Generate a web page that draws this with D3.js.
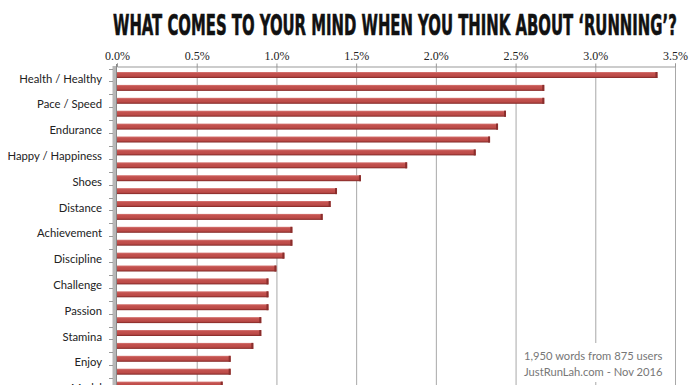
<!DOCTYPE html>
<html>
<head>
<meta charset="utf-8">
<script src="https://cdn.jsdelivr.net/npm/d3@7"></script>
<style>
  body { margin: 0; background: #fff; }
  svg { display: block; }
</style>
</head>
<body>
<svg id="chart"></svg>
<script>
// share of all words (%), top to bottom
var values = [3.39, 2.68, 2.68, 2.44, 2.39, 2.34, 2.25, 1.82, 1.53, 1.38, 1.34, 1.29,
              1.10, 1.10, 1.05, 1.00, 0.95, 0.95, 0.95, 0.905, 0.905, 0.855, 0.713, 0.713, 0.663];
// only every other category is labelled in the picture
var labels = ["Health / Healthy", null, "Pace / Speed", null, "Endurance", null,
              "Happy / Happiness", null, "Shoes", null, "Distance", null,
              "Achievement", null, "Discipline", null, "Challenge", null,
              "Passion", null, "Stamina", null, "Enjoy", null, "Medal"];
var tickValues = [0, 0.5, 1.0, 1.5, 2.0, 2.5, 3.0, 3.5];
var title = "WHAT COMES TO YOUR MIND WHEN YOU THINK ABOUT \u2018RUNNING\u2019?";
var notes = ["1,950 words from 875 users", "JustRunLah.com - Nov 2016"];

var width = 696, height = 385;
var svg = d3.select("#chart").attr("width", width).attr("height", height);

var defs = svg.append("defs");
var grad = defs.append("linearGradient").attr("id", "barGrad")
  .attr("x1", 0).attr("y1", 0).attr("x2", 0).attr("y2", 1);
grad.append("stop").attr("offset", "0%").attr("stop-color", "#d77b78");
grad.append("stop").attr("offset", "25%").attr("stop-color", "#c4524f");
grad.append("stop").attr("offset", "70%").attr("stop-color", "#bb4a47");
grad.append("stop").attr("offset", "100%").attr("stop-color", "#7e2624");

var x = d3.scaleLinear().domain([0, 3.5]).range([117, 675]);
var step = 12.9;
var y = d3.scaleBand().domain(d3.range(values.length))
  .range([68.55, 68.55 + values.length * step]);

// title: squeeze horizontally so it spans 113..677
var titleText = svg.append("text")
  .style("font-family", "'Liberation Sans Narrow', 'DejaVu Sans Condensed', sans-serif")
  .style("font-stretch", "condensed")
  .style("font-weight", "bold").style("font-size", "29px")
  .style("fill", "#111").style("stroke", "#111").style("stroke-width", 0.6)
  .text(title);
var tw = titleText.node().getComputedTextLength();
titleText.attr("transform", "translate(113,35) scale(" + (564 / tw) + ",1)");

// gridlines
svg.append("g").selectAll("line").data(tickValues.slice(1)).enter().append("line")
  .attr("x1", function(d) { return x(d) + 0.5; })
  .attr("x2", function(d) { return x(d) + 0.5; })
  .attr("y1", 66).attr("y2", height)
  .style("stroke", "#a8a8a8").style("stroke-width", 1);

// top axis
var xAxis = svg.append("g").attr("transform", "translate(0,66.5)")
  .call(d3.axisTop(x).tickValues(tickValues).tickSize(3).tickPadding(4)
    .tickFormat(function(d) { return d.toFixed(1) + "%"; }));
xAxis.select(".domain").style("stroke", "#999");
xAxis.selectAll(".tick line").style("stroke", "#999");
xAxis.selectAll("text")
  .style("font-family", "'Liberation Serif', 'DejaVu Serif', serif")
  .style("font-size", "12px").style("fill", "#222");

// left wall of the 3D chart
svg.append("rect").attr("x", 112.5).attr("y", 66).attr("width", 3.5).attr("height", height - 66)
  .style("fill", "#b8b8b8");
svg.append("line").attr("x1", 116.5).attr("x2", 116.5).attr("y1", 64).attr("y2", height)
  .style("stroke", "#8a8a8a");
svg.append("g").selectAll("line").data(d3.range(values.length + 1)).enter().append("line")
  .attr("x1", 109).attr("x2", 113)
  .attr("y1", function(i) { return Math.round(y.range()[0] + i * step) + 0.5; })
  .attr("y2", function(i) { return Math.round(y.range()[0] + i * step) + 0.5; })
  .style("stroke", "#999");

// bars
var bars = svg.append("g").selectAll("g").data(values).enter().append("g");
bars.append("rect")
  .attr("x", x(0))
  .attr("y", function(d, i) { return y(i) + y.bandwidth() / 2 - 3; })
  .attr("width", function(d) { return x(d) - x(0); })
  .attr("height", 6)
  .style("fill", "url(#barGrad)");
bars.append("rect")
  .attr("x", function(d) { return x(d) - 2; })
  .attr("y", function(d, i) { return y(i) + y.bandwidth() / 2 - 3; })
  .attr("width", 2).attr("height", 6)
  .style("fill", "#8a2e2c");

// category labels
svg.append("g").selectAll("text").data(labels).enter()
  .filter(function(d) { return d; })
  .append("text")
  .attr("x", 102)
  .attr("y", function(d) { return y(labels.indexOf(d)) + y.bandwidth() / 2 + 7.5; })
  .attr("text-anchor", "end")
  .style("font-family", "Lato, 'Open Sans', sans-serif")
  .style("font-size", "11.3px").style("fill", "#222")
  .text(function(d) { return d; });

// source note
svg.append("rect").attr("x", 519).attr("y", 343).attr("width", 150).attr("height", 39)
  .style("fill", "#fff");
svg.append("g").selectAll("text").data(notes).enter().append("text")
  .attr("x", 524)
  .attr("y", function(d, i) { return 360 + i * 15.5; })
  .style("font-family", "Lato, 'Open Sans', sans-serif")
  .style("font-size", "11.2px").style("fill", "#777")
  .text(function(d) { return d; });
</script>
</body>
</html>
